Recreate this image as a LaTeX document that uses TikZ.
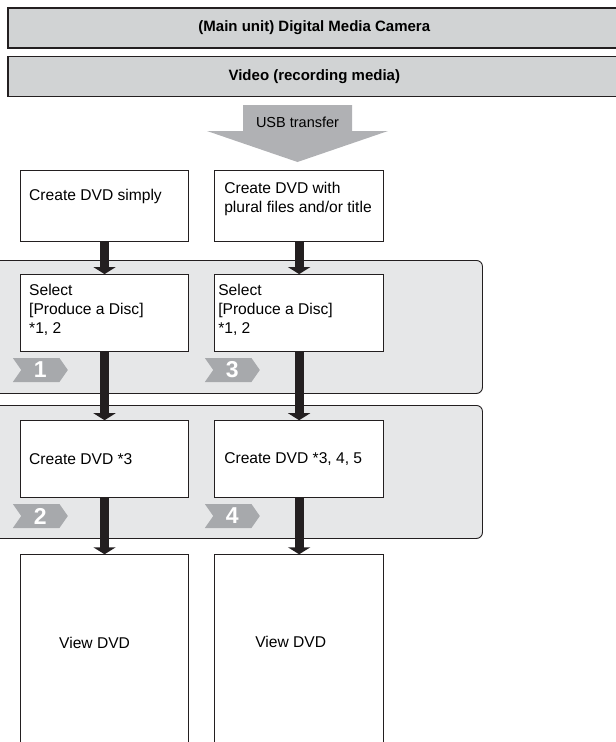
\documentclass[tikz,border=0pt]{standalone}
\usepackage{fontspec}
\setmainfont{Liberation Sans}
\usetikzlibrary{arrows.meta, positioning, shapes.symbols}
\definecolor{inkdark}{HTML}{231F20}
\definecolor{barfill}{HTML}{D1D3D4}
\definecolor{panelfill}{HTML}{E6E7E8}
\definecolor{badgefill}{HTML}{A7A9AC}

\begin{document}
\begin{tikzpicture}[
    x=1pt, y=-1pt,
    font=\fontsize{15.6}{19}\selectfont,
    titlebar/.style={rectangle, draw=inkdark, line width=1.6pt, fill=barfill,
                     minimum height=40pt, inner sep=0pt,
                     font=\fontsize{15}{18}\selectfont\bfseries},
    panel/.style={rectangle, rounded corners=6pt, draw=inkdark,
                  line width=0.9pt, fill=panelfill, minimum width=492pt,
                  minimum height=133pt},
    stepbox/.style={rectangle, draw=inkdark, line width=1.1pt, fill=white,
                    minimum width=168pt, minimum height=77pt, inner sep=0pt},
    txt/.style={align=left, inner sep=0pt, anchor=west},
    badge/.style={signal, signal to=east, signal from=west,
                  signal pointer angle=110, fill=badgefill, draw=none,
                  minimum width=55pt, minimum height=24pt, inner sep=0pt,
                  text=white, font=\fontsize{23}{23}\selectfont\bfseries},
    flow/.style={-{Triangle[width=22pt, length=7pt]}, line width=9pt, draw=inkdark}
]
\useasboundingbox (0,0) rectangle (616,742);
\clip (0,0) rectangle (616,742);

% header bars
\node[titlebar, minimum width=613pt, anchor=north west]
    (camera) at (7,7) {(Main unit) Digital Media Camera};
\node[titlebar, minimum width=613pt, below=7pt of camera]
    (media)  {Video (recording media)};

% USB transfer arrow
\coordinate (usb) at (297.5,105);
\fill[badgefill!90] (243,105) -- (352,105) -- (352,131) -- (388,131)
    -- (297.5,162) -- (207,131) -- (243,131) -- cycle;
\node[font=\fontsize{14.5}{16}\selectfont, below=8pt of usb] (usbtxt) {USB transfer};

% step panels
\node[panel, anchor=north west] (phase1) at (-10,260) {};
\node[panel, anchor=north west] (phase2) at (-10,405) {};

% boxes, left column
\node[stepbox, minimum height=71pt, anchor=north west] (simple) at (20,170) {};
\node[stepbox, below=32pt of simple] (sel1)  {};
\node[stepbox, below=68pt of sel1]   (make2) {};
\node[stepbox, minimum height=200pt, below=56pt of make2] (view1) {};

% boxes, right column
\node[stepbox, minimum width=169pt, minimum height=71pt, right=25pt of simple] (plural) {};
\node[stepbox, minimum width=169pt, below=32pt of plural] (sel3)  {};
\node[stepbox, minimum width=169pt, below=68pt of sel3]   (make4) {};
\node[stepbox, minimum width=169pt, minimum height=200pt, below=56pt of make4] (view2) {};

% box texts
\node[txt] (simpleT) at ([xshift=9pt, yshift=10pt]simple.west) {Create DVD simply};
\node[txt] (pluralT) at ([xshift=10pt, yshift=7pt]plural.west)
    {Create DVD with\\plural files and/or title};
\node[txt] (sel1T)   at ([xshift=9pt, yshift=3pt]sel1.west)
    {Select\\\relax[Produce a Disc]\\\relax*1, 2};
\node[txt] (sel3T)   at ([xshift=4pt, yshift=3pt]sel3.west)
    {Select\\\relax[Produce a Disc]\\\relax*1, 2};
\node[txt] (make2T)  at ([xshift=9pt]make2.west) {Create DVD *3};
\node[txt] (make4T)  at ([xshift=10pt]make4.west) {Create DVD *3, 4, 5};
\node[txt] (view1T)  at ([xshift=39pt, yshift=-89pt]view1.north west) {View DVD};
\node[txt] (view2T)  at ([xshift=41pt, yshift=-88pt]view2.north west) {View DVD};

% step badges
\node[badge, anchor=west] (step1) at (21,370) {1};
\node[badge, anchor=west] (step3) at (213,370) {3};
\node[badge, anchor=west] (step2) at (21,516) {2};
\node[badge, anchor=west] (step4) at (213,516) {4};

% flow arrows
\draw[flow] (simple.south) -- (sel1.north);
\draw[flow] (sel1.south)   -- (make2.north);
\draw[flow] (make2.south)  -- (view1.north);
\draw[flow] (plural.south) -- (sel3.north);
\draw[flow] (sel3.south)   -- (make4.north);
\draw[flow] (make4.south)  -- (view2.north);
\end{tikzpicture}
\end{document}
